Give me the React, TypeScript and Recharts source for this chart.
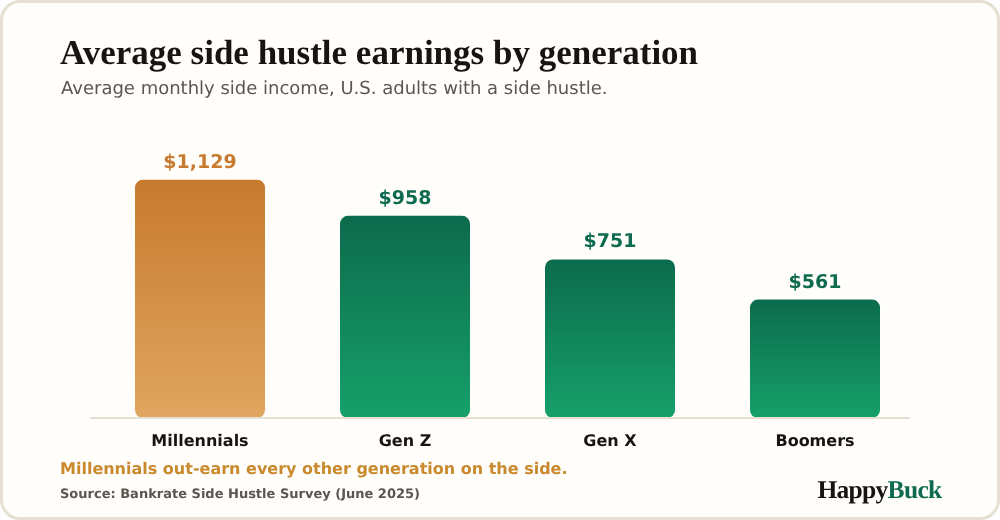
import { BarChart, Bar, XAxis, YAxis, Cell, LabelList, ReferenceLine } from "recharts";

const generations = ["Millennials", "Gen Z", "Gen X", "Boomers"];
const earnings = [1129, 958, 751, 561];
const fills = ["url(#goldBar)", "url(#greenBar)", "url(#greenBar)", "url(#greenBar)"];
const labelColors = ["#C77B30", "#0F6B4F", "#0F6B4F", "#0F6B4F"];

const data = generations.map((name, i) => ({ name, value: earnings[i] }));

const sans = "'DejaVu Sans', sans-serif";
const serif = "'Liberation Serif', serif";

// value labels sit above the bar, coloured like the bar
function ValueLabel(props: any) {
  const { x, y, width, value, index } = props;
  return (
    <text
      x={x + width / 2}
      y={y - 12}
      textAnchor="middle"
      fontFamily={sans}
      fontWeight={700}
      fontSize={19}
      fill={labelColors[index]}
    >
      ${value.toLocaleString("en-US")}
    </text>
  );
}

// the baseline runs a little left of the bar bands
function Baseline(props: any) {
  const { x1, x2, y1 } = props;
  return <line x1={x1 - 7.5} x2={x2 - 7.5} y1={y1} y2={y1} stroke="#E6E0D4" strokeWidth={2} />;
}

export default function App() {
  return (
    <div
      style={{
        position: "absolute",
        left: 0,
        top: 0,
        width: 1000,
        height: 520,
        boxSizing: "border-box",
        background: "#FFFEFB",
        border: "3px solid #E6E0D4",
        borderRadius: 20,
        overflow: "hidden",
        textRendering: "geometricPrecision",
        willChange: "transform",
      }}
    >
      <div style={{ position: "absolute", left: 57, top: 29, fontFamily: serif, fontWeight: 700, fontSize: 35, lineHeight: "42px", color: "#171512", whiteSpace: "nowrap" }}>
        Average side hustle earnings by generation
      </div>
      <div style={{ position: "absolute", left: 58, top: 74, fontFamily: sans, fontSize: 18, lineHeight: "24px", color: "#5A5650", whiteSpace: "nowrap" }}>
        Average monthly side income, U.S. adults with a side hustle.
      </div>

      <div style={{ position: "absolute", left: -3, top: -3 }}>
        <BarChart
          width={1000}
          height={460}
          data={data}
          margin={{ top: 132, right: 82.5, bottom: 0, left: 97.5 }}
          barCategoryGap={37.5}
        >
          <defs>
            <linearGradient id="goldBar" x1="0" y1="0" x2="0" y2="1">
              <stop offset="0%" stopColor="#C77A2E" />
              <stop offset="100%" stopColor="#E0A560" />
            </linearGradient>
            <linearGradient id="greenBar" x1="0" y1="0" x2="0" y2="1">
              <stop offset="0%" stopColor="#0C6B4D" />
              <stop offset="100%" stopColor="#16A06A" />
            </linearGradient>
          </defs>
          <XAxis
            dataKey="name"
            axisLine={false}
            tickLine={false}
            interval={0}
            height={42}
            tickMargin={11}
            tick={{ fontFamily: sans, fontWeight: 700, fontSize: 16, fill: "#171512" }}
          />
          <YAxis hide domain={[0, 1355]} />
          <ReferenceLine y={0} shape={Baseline} />
          <Bar dataKey="value" radius={8} isAnimationActive={false}>
            {data.map((d, i) => (
              <Cell key={d.name} fill={fills[i]} />
            ))}
            <LabelList dataKey="value" content={ValueLabel} />
          </Bar>
        </BarChart>
      </div>

      <div style={{ position: "absolute", left: 57, top: 455, fontFamily: sans, fontWeight: 700, fontSize: 16, lineHeight: "22px", color: "#C98A2E", whiteSpace: "nowrap" }}>
        Millennials out-earn every other generation on the side.
      </div>
      <div style={{ position: "absolute", left: 57, top: 483, fontFamily: sans, fontWeight: 700, fontSize: 13, lineHeight: "18px", color: "#5A5650", whiteSpace: "nowrap" }}>
        Source: Bankrate Side Hustle Survey (June 2025)
      </div>
      <div style={{ position: "absolute", right: 55.5, top: 472, fontFamily: serif, fontWeight: 700, fontSize: 25.5, lineHeight: "30px", letterSpacing: -0.7, color: "#171512", whiteSpace: "nowrap" }}>
        Happy<span style={{ color: "#0F6B4F" }}>Buck</span>
      </div>
    </div>
  );
}
